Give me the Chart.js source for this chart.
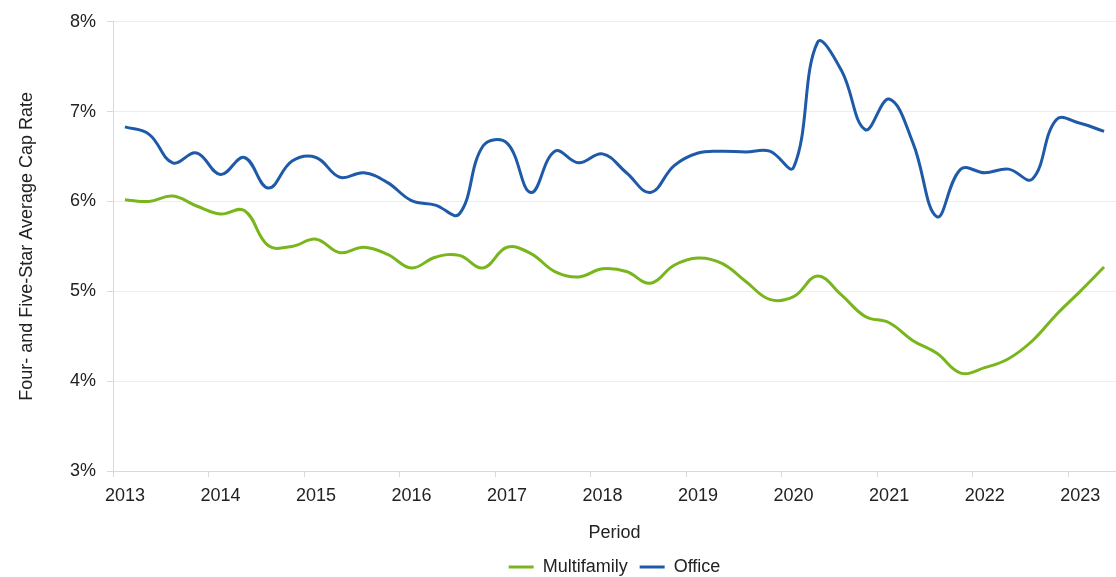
<!DOCTYPE html>
<html>
<head>
<meta charset="utf-8">
<script src="https://cdn.jsdelivr.net/npm/chart.js@4/dist/chart.umd.min.js"></script>
<style>
  html, body { margin: 0; padding: 0; background: #fff; }
  #wrap { width: 1116px; height: 577px; }
</style>
</head>
<body>
<div id="wrap"><canvas id="capRates"></canvas></div>
<script>
// quarterly periods, 2013 Q1 .. 2023 Q2
const periods = [
  "2013 Q1", "2013 Q2", "2013 Q3", "2013 Q4",
  "2014 Q1", "2014 Q2", "2014 Q3", "2014 Q4",
  "2015 Q1", "2015 Q2", "2015 Q3", "2015 Q4",
  "2016 Q1", "2016 Q2", "2016 Q3", "2016 Q4",
  "2017 Q1", "2017 Q2", "2017 Q3", "2017 Q4",
  "2018 Q1", "2018 Q2", "2018 Q3", "2018 Q4",
  "2019 Q1", "2019 Q2", "2019 Q3", "2019 Q4",
  "2020 Q1", "2020 Q2", "2020 Q3", "2020 Q4",
  "2021 Q1", "2021 Q2", "2021 Q3", "2021 Q4",
  "2022 Q1", "2022 Q2", "2022 Q3", "2022 Q4",
  "2023 Q1", "2023 Q2"
];
const yearLabels = ["2013", "2014", "2015", "2016", "2017", "2018", "2019", "2020", "2021", "2022", "2023"];

// four- and five-star average cap rate, %
const multifamily = [
  6.02, 6.00, 6.06, 5.95, 5.86, 5.90, 5.51, 5.50,
  5.58, 5.43, 5.49, 5.41, 5.26, 5.38, 5.40, 5.26,
  5.49, 5.42, 5.22, 5.16, 5.25, 5.22, 5.09, 5.29,
  5.37, 5.31, 5.11, 4.91, 4.94, 5.17, 4.96, 4.72,
  4.65, 4.45, 4.31, 4.09, 4.15, 4.25, 4.45, 4.74,
  5.00, 5.27
];
const office = [
  6.83, 6.75, 6.43, 6.54, 6.30, 6.49, 6.15, 6.45,
  6.49, 6.27, 6.32, 6.21, 6.01, 5.96, 5.86, 6.62,
  6.65, 6.10, 6.56, 6.43, 6.53, 6.32, 6.10, 6.40,
  6.54, 6.56, 6.55, 6.56, 6.38, 7.77, 7.46, 6.80,
  7.14, 6.65, 5.83, 6.36, 6.32, 6.36, 6.25, 6.91,
  6.87, 6.78
];

const textColor = "#222222";
const lineGray = "#d9d9d9";
const baseFont = { family: "Arial, 'Liberation Sans', sans-serif", size: 18 };

const canvas = document.querySelector("#capRates");
const chart = new Chart(canvas.getContext("2d"), {
  type: "line",
  data: {
    labels: periods,
    datasets: [
      {
        label: "Multifamily",
        data: multifamily,
        borderColor: "#79b51c",
        backgroundColor: "#79b51c",
        borderWidth: 3,
        pointRadius: 0,
        tension: 0.4,
      },
      {
        label: "Office",
        data: office,
        borderColor: "#1e5aa8",
        backgroundColor: "#1e5aa8",
        borderWidth: 3,
        pointRadius: 0,
        tension: 0.4,
      },
    ],
  },
  options: {
    responsive: true,
    maintainAspectRatio: false,
    animation: false,
    layout: { padding: { top: 12, right: 0, left: 0, bottom: -9 } },
    scales: {
      x: {
        type: "category",
        offset: true,
        grid: {
          offset: true,
          drawOnChartArea: false,
          tickLength: 6,
          tickColor: (ctx) => (ctx.index % 4 === 0 ? lineGray : "rgba(0,0,0,0)"),
        },
        border: { color: lineGray },
        ticks: {
          autoSkip: false,
          maxRotation: 0,
          padding: 8,
          color: textColor,
          font: baseFont,
          callback: (value, index) => (index % 4 === 0 ? yearLabels[index / 4] : ""),
        },
        title: {
          display: true,
          text: "Period",
          color: textColor,
          font: baseFont,
          padding: { top: 14, bottom: 2 },
        },
        afterFit: (axis) => { axis.height = 75; },
      },
      y: {
        min: 3,
        max: 8,
        grid: { color: "#ededed", tickColor: lineGray, tickLength: 6 },
        border: { color: lineGray },
        ticks: {
          stepSize: 1,
          padding: 11,
          color: textColor,
          font: baseFont,
          callback: (value) => value + "%",
        },
        title: {
          display: true,
          text: "Four- and Five-Star Average Cap Rate",
          color: textColor,
          font: baseFont,
          padding: { top: 16, bottom: 0 },
        },
        afterFit: (axis) => { axis.width = 113; },
      },
    },
    plugins: {
      legend: {
        position: "bottom",
        fullSize: false,
        labels: {
          usePointStyle: true,
          pointStyle: "line",
          pointStyleWidth: 25,
          padding: 12,
          color: textColor,
          font: baseFont,
        },
      },
      tooltip: { enabled: false },
    },
  },
});
</script>
</body>
</html>
